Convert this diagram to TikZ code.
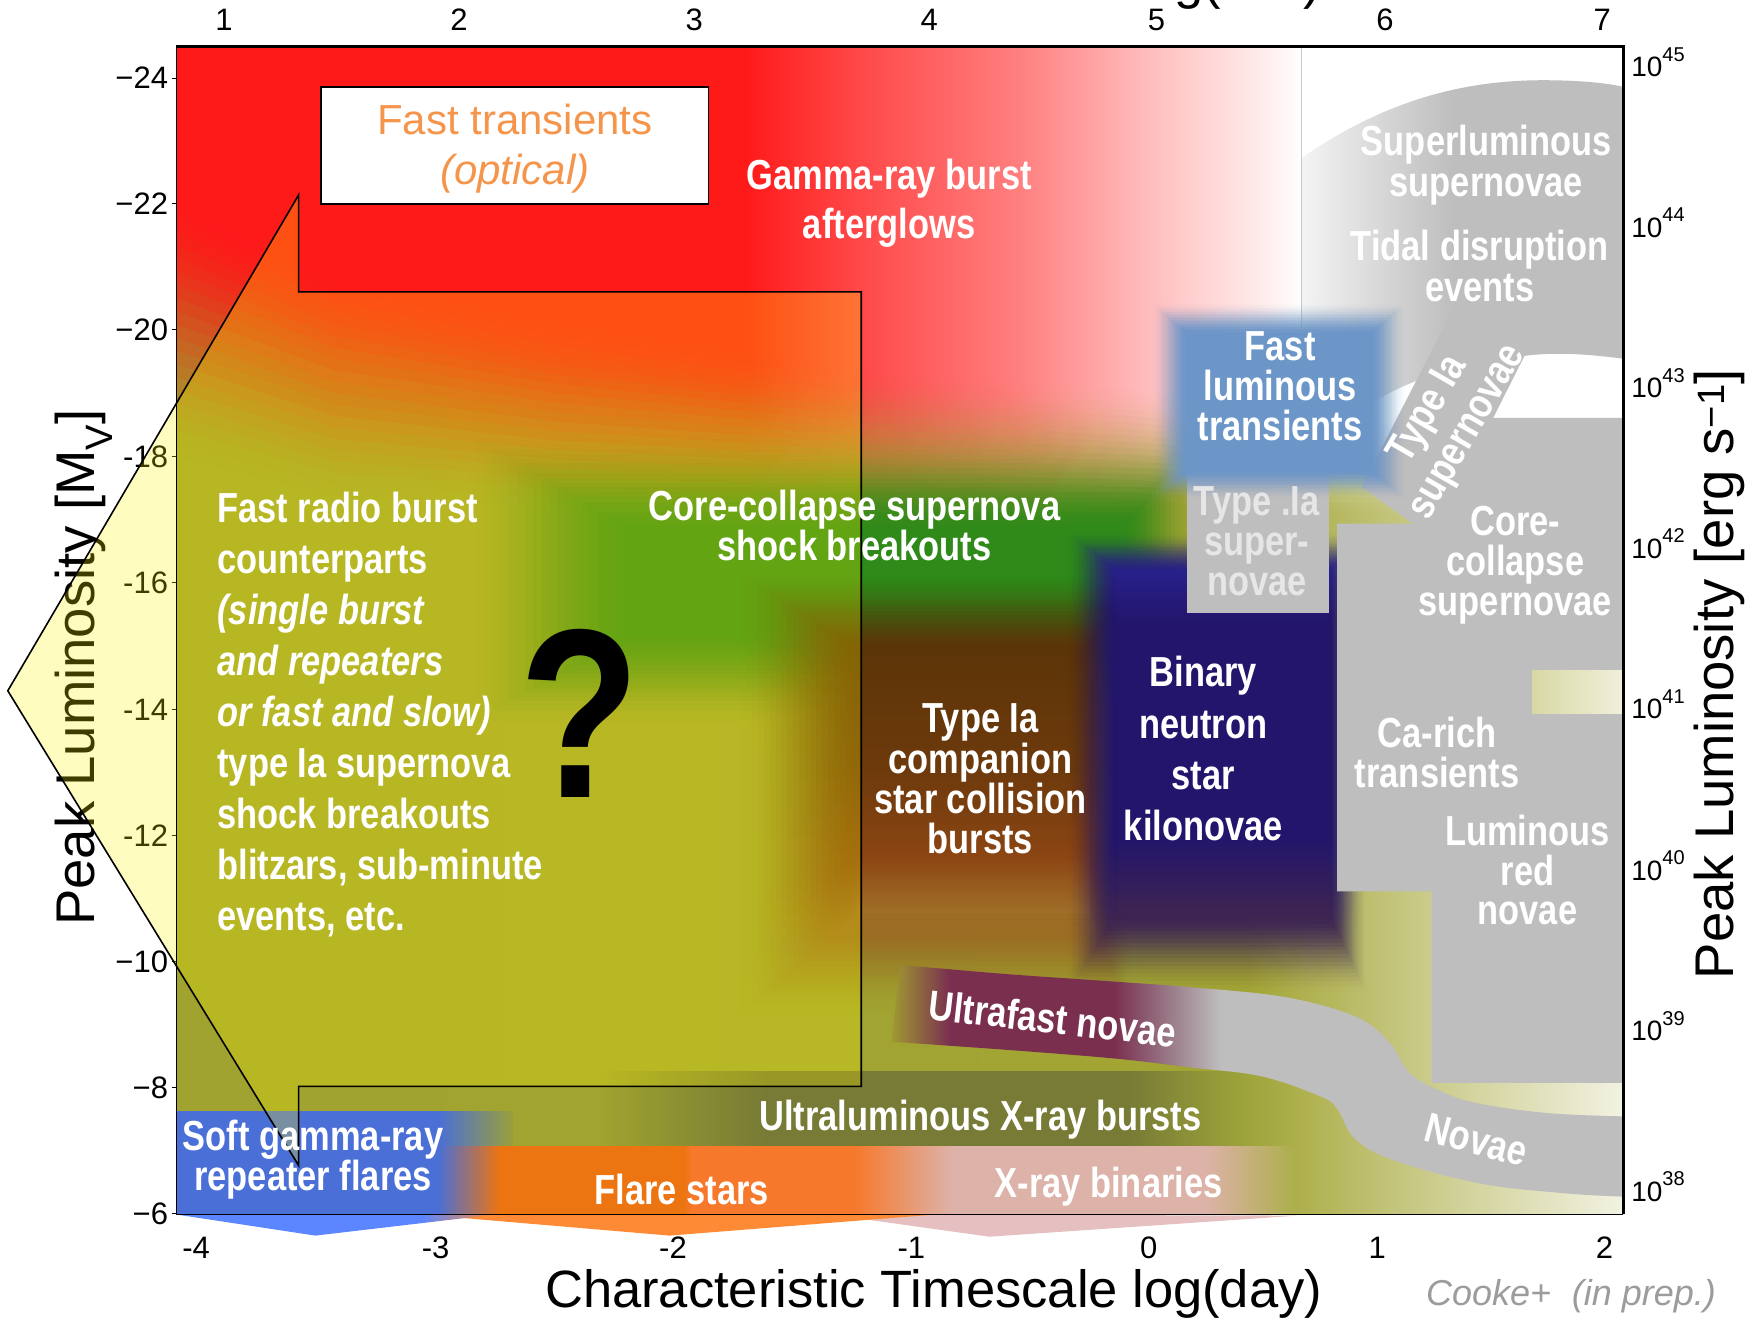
\documentclass[tikz,border=0pt]{standalone}
\usepackage{fontspec}
\setmainfont{Liberation Sans}
\newfontfamily\lbl[FakeStretch=0.82]{Liberation Sans}
\newcommand\lf[1]{\lbl\bfseries\fontsize{42}{#1}\selectfont}

% colours
\definecolor{cOlv}{HTML}{A0A32F}
\definecolor{cOlvA}{HTML}{A2A534}
\definecolor{cOlvB}{HTML}{C3C47A}
\definecolor{cOlvC}{HTML}{F2F2E2}
\definecolor{cGrn}{HTML}{2F8A1A}
\definecolor{cRed}{HTML}{FF1A1A}
\definecolor{cRedB}{HTML}{FF4545}
\definecolor{cRedC}{HTML}{FF8080}
\definecolor{cRedD}{HTML}{FFB8B8}
\definecolor{cRedE}{HTML}{FFE8E8}
\definecolor{cBrnA}{HTML}{5C3508}
\definecolor{cBrnB}{HTML}{6E3A0C}
\definecolor{cBrnC}{HTML}{8B4513}
\definecolor{cBrnD}{HTML}{A07028}
\definecolor{cNavy}{HTML}{22156B}
\definecolor{cNavyT}{HTML}{28208A}
\definecolor{cNavyB}{HTML}{3E2452}
\definecolor{cFlt}{HTML}{6C96C8}
\definecolor{cGry}{HTML}{BEBEBE}
\definecolor{cArcA}{HTML}{F4F4F4}
\definecolor{cArcB}{HTML}{D8D8D8}
\definecolor{cMar}{HTML}{7A2F4F}
\definecolor{cNovA}{HTML}{A09A32}
\definecolor{cNovB}{HTML}{9A7A88}
\definecolor{cSgr}{HTML}{4A6FD6}
\definecolor{cSgrE}{HTML}{9A9F3A}
\definecolor{cFlA}{HTML}{EC7411}
\definecolor{cFlB}{HTML}{F6782A}
\definecolor{cXrb}{HTML}{DDB2A9}
\definecolor{cRowE}{HTML}{ACAF4A}
\definecolor{cUlx}{HTML}{777B35}
\definecolor{cUlxB}{HTML}{9CA23A}
\definecolor{cUlxC}{HTML}{ACAF4A}
\definecolor{cYelA}{HTML}{D8D8A6}
\definecolor{cYelB}{HTML}{F0F0DC}
\definecolor{cWBlue}{HTML}{5B86FF}
\definecolor{cWOr}{HTML}{FF8A35}
\definecolor{cWPink}{HTML}{E6C0C0}
\definecolor{cFto}{HTML}{F5954C}
\definecolor{cCooke}{HTML}{9C9C9C}
\definecolor{cTdot}{HTML}{E6E6E6}
\definecolor{cLine}{HTML}{C8C8C8}

% shadings (the path box maps onto 25bp..75bp)
\pgfdeclarehorizontalshading{baseshade}{100bp}{color(0bp)=(cOlv); color(25bp)=(cOlv); color(62bp)=(cOlvA); color(67bp)=(cOlvB); color(75bp)=(cOlvC); color(100bp)=(cOlvC)}
\pgfdeclarehorizontalshading{redshade}{100bp}{color(0bp)=(cRed); color(25bp)=(cRed); color(44.7bp)=(cRed); color(48.3bp)=(cRedB); color(54.2bp)=(cRedC); color(58.2bp)=(cRedD); color(62.2bp)=(cRedE); color(63.95bp)=(white); color(100bp)=(white)}
\pgfdeclareverticalshading{brownv}{100bp}{color(0bp)=(cBrnD); color(25bp)=(cBrnD); color(36bp)=(cBrnC); color(52.5bp)=(cBrnB); color(75bp)=(cBrnA); color(100bp)=(cBrnA)}
\pgfdeclareverticalshading{navyv}{100bp}{color(0bp)=(cNavyB); color(25bp)=(cNavyB); color(36bp)=(cNavy); color(67.5bp)=(cNavy); color(75bp)=(cNavyT); color(100bp)=(cNavyT)}
\pgfdeclarehorizontalshading{arcshade}{100bp}{color(0bp)=(cArcA); color(25bp)=(cArcA); color(37bp)=(cArcB); color(48.5bp)=(cGry); color(100bp)=(cGry)}
\pgfdeclarehorizontalshading{novshade}{100bp}{color(0bp)=(cNovA); color(25bp)=(cNovA); color(29bp)=(cMar); color(40.2bp)=(cMar); color(44bp)=(cNovB); color(47.5bp)=(cGry); color(100bp)=(cGry)}
\pgfdeclarehorizontalshading{rowshade}{100bp}{color(0bp)=(cSgr); color(36.7bp)=(cSgr); color(39.45bp)=(cFlA); color(47.7bp)=(cFlA); color(48.05bp)=(cFlB); color(55.25bp)=(cFlB); color(59.7bp)=(cXrb); color(71bp)=(cXrb); color(75bp)=(cRowE); color(100bp)=(cRowE)}
\pgfdeclarehorizontalshading{sgrshade}{100bp}{color(0bp)=(cSgr); color(64bp)=(cSgr); color(75bp)=(cSgrE); color(100bp)=(cSgrE)}
\pgfdeclarehorizontalshading{ulxshade}{100bp}{color(0bp)=(cOlv); color(25bp)=(cOlv); color(36.8bp)=(cUlx); color(63bp)=(cUlx); color(71bp)=(cUlxB); color(75bp)=(cUlxC); color(100bp)=(cUlxC)}
\pgfdeclarehorizontalshading{yelshade}{100bp}{color(0bp)=(cYelA); color(25bp)=(cYelA); color(75bp)=(cYelB); color(100bp)=(cYelB)}
\pgfdeclarehorizontalshading{wedgeshade}{100bp}{color(0bp)=(cWBlue); color(63.5bp)=(cWBlue); color(75bp)=(cWOr); color(100bp)=(cWOr)}

% opacity of step #1 of #2 for a smoothstep edge
\newcommand\alphastep[2]{%
  \pgfmathsetmacro\sft{#1/#2}%
  \pgfmathsetmacro\sfp{(#1-1)/#2}%
  \pgfmathsetmacro\sfc{\sft*\sft*(3-2*\sft)}%
  \pgfmathsetmacro\sfcp{\sfp*\sfp*(3-2*\sfp)}%
  \pgfmathsetmacro\sfa{(\sfc-\sfcp)/(1-\sfcp)}%
}
% soft-edged rectangle: style, x1, y1, x2, y2, blur left, top, right, bottom
\newcommand\softrect[9]{%
  \foreach \sk in {1,...,22}{%
    \alphastep{\sk}{22}%
    \path[#1, fill opacity=\sfa] ({#2+\sfp*#6},{#3+\sfp*#7}) rectangle ({#4-\sfp*#8},{#5-\sfp*#9});
  }%
}

\begin{document}
\begin{tikzpicture}[x=1.1142pt, y=-1.1142pt,
  lab/.style={text=white, align=center, inner sep=0pt, font=\lf{40.1}},
  tk/.style={inner sep=0pt, font=\fontsize{31}{31}\selectfont},
  rk/.style={inner sep=0pt, anchor=base west, font=\fontsize{28}{28}\selectfont},
  axlab/.style={inner sep=0pt, font=\fontsize{52.5}{52.5}\selectfont}]
\useasboundingbox (0,0) rectangle (1568,1184);

% ---------------- coloured field ----------------
\begin{scope}
  \clip (158,42) rectangle (1457,1090);
  \shade[shading=baseshade] (158,42) rectangle (1457,1090);
  % core-collapse breakout zone
  \softrect{fill=cGrn}{420}{390}{1075}{650}{160}{95}{75}{90}
  % afterglow band, fading out along a slanted lower edge
  \foreach \sk in {1,...,20}{%
    \alphastep{\sk}{20}%
    \shade[shading=redshade, fill opacity=\sfa]
      (158,42) -- (1457,42)
      -- (1457,{470-90*\sfp}) -- (1200,{465-95*\sfp}) -- (1023,{460-115*\sfp})
      -- (943,{458-118*\sfp}) -- (773,{455-127*\sfp}) -- (500,{455-170*\sfp})
      -- (300,{445-205*\sfp}) -- (158,{410-238*\sfp}) -- cycle;
  }
  % companion collision zone
  \softrect{shade, shading=brownv}{665}{515}{1015}{910}{115}{75}{40}{95}
  % kilonova zone
  \softrect{shade, shading=navyv}{958}{478}{1226}{890}{48}{38}{36}{75}
  % superluminous SNe and TDE arc
  \shade[shading=arcshade] (1168,142) .. controls (1240,92) and (1310,72) .. (1385,72)
     .. controls (1420,72) and (1445,75) .. (1457,78) -- (1457,322)
     .. controls (1420,317) and (1390,316) .. (1364,320)
     .. controls (1300,328) and (1230,345) .. (1168,415) -- cycle;
  % Type Ia band
  \fill[cGry] (1222,437) -- (1304,278) -- (1372,312) -- (1320,415) -- (1268,470) -- cycle;
  % core-collapse, Ca-rich and red-nova block
  \fill[cGry] (1200,470) -- (1268,470) -- (1336,375) -- (1457,375) -- (1457,972)
     -- (1285,972) -- (1285,800) -- (1200,800) -- cycle;
  \draw[cLine, line width=0.8pt] (1168,42) -- (1168,430);
  % Type .Ia box
  \fill[cGry] (1065,389) rectangle (1193,550);
  % fast luminous transients
  \softrect{fill=cFlt}{1034}{272}{1262}{448}{34}{30}{34}{28}
  % pale strip
  \shade[shading=yelshade] (1375,602) rectangle (1457,640);
  % X-ray bursts band
  \shade[shading=ulxshade] (540,962) rectangle (1162,1029);
  % SGR flares, flare stars, X-ray binaries
  \shade[shading=sgrshade] (158,998) rectangle (460,1029);
  \shade[shading=rowshade] (158,1029) rectangle (1162,1090);
  % ultrafast novae into the novae track
  \shade[shading=novshade]
    plot[smooth, tension=0.6] coordinates {(808,866) (900,874) (1000,881) (1068,886) (1154,895) (1218,913) (1248,937) (1265,963) (1290,978) (1325,990) (1389,999) (1457,1002)}
    -- plot[smooth, tension=0.6] coordinates {(1457,1074) (1404,1071) (1327,1062) (1250,1041) (1216,1022) (1200,995) (1185,984) (1132,966) (1068,958) (1000,950) (900,942) (800,935)}
    -- cycle;
\end{scope}

% wedges under the time axis
\fill[cWPink] (745,1090) -- (888,1110) -- (1165,1091) -- cycle;
\fill[cWOr] (378,1090) -- (601,1109) -- (840,1090) -- cycle;
\shade[shading=wedgeshade] (158,1090) -- (283,1109) -- (445,1090) -- cycle;

% ---------------- axes ----------------
\foreach \v/\yy [count=\i] in {−24/70,−22/183,−20/296,-18/410,-16/523,-14/637,-12/750,−10/863,−8/976,−6/1089}{
  \node[tk, anchor=east] (lt\i) at (151,\yy) {\v};
  \draw[line width=0.8pt] (154,\yy) -- (158,\yy);
}
\foreach \v/\xx in {1/201,2/412,3/623,4/834,5/1038,6/1243,7/1438}
  \node[tk] (tt\v) at (\xx,18) {\v};
\foreach \v/\xx [count=\i] in {-4/176,-3/391,-2/604,-1/818,0/1031,1/1236,2/1440}
  \node[tk] (bt\i) at (\xx,1120) {\v};
\foreach \e/\yy in {45/69,44/213,43/357,42/501,41/645,40/790,39/934,38/1078}
  \node[rk] (rt\e) at (1464,\yy) {10\raisebox{15.6pt}{\fontsize{20}{20}\selectfont\e}};

\node[axlab, rotate=90, font=\fontsize{54.5}{54.5}\selectfont] (ylab) at (75,599) {Peak Luminosity [M\textsubscript{V}]};
\node[axlab, rotate=90, font=\fontsize{54.5}{54.5}\selectfont] (rlab) at (1543,605) {Peak Luminosity [erg s\textsuperscript{−1}]};
\node[axlab] (xlab) at (838,1161) {Characteristic Timescale log(day)};
\node[axlab] (xtoplab) at (838,-13.4) {Characteristic Timescale log(sec)};
\node[inner sep=0pt, text=cCooke, font=\itshape\fontsize{36}{36}\selectfont] (cooke) at (1410,1163) {Cooke+\hspace{0.3em} (in prep.)};

% ---------------- fast-transient arrow ----------------
\fill[yellow, fill opacity=0.25] (7,620) -- (268,175) -- (268,262) -- (773,262) -- (773,975) -- (268,975) -- (268,1046) -- cycle;
\draw[line width=1.6pt, line join=miter] (7,620) -- (268,175) -- (268,262) -- (773,262) -- (773,975) -- (268,975) -- (268,1046) -- cycle;

\node[draw=black, fill=white, line width=1.6pt, minimum width=387.7pt, minimum height=117pt, inner sep=0pt] (ftbox) at (462,130.5) {};
\node[text=cFto, align=center, inner sep=0pt, font=\fontsize{42}{50}\selectfont] (fttext) at (462,133) {Fast transients\\\textit{(optical)}};

% ---------------- labels ----------------
\node[lab, font=\lf{49}] (grb) at (798,182) {Gamma-ray burst\\afterglows};
\node[lab, font=\lf{37.9}] (ccsb) at (767,472) {Core-collapse supernova\\shock breakouts};
\node[lab, align=left, anchor=west, font=\lf{51}] (frb) at (195,641) {Fast radio burst\\counterparts\\\textit{(single burst}\\\textit{and repeaters}\\\textit{or fast and slow)}\\type Ia supernova\\shock breakouts\\blitzars, sub-minute\\events, etc.};
\node[inner sep=0pt, font=\lbl\bfseries\fontsize{241}{241}\selectfont] (qm) at (520,640) {?};
\node[lab] (tiacomp) at (880,699) {Type Ia\\companion\\star collision\\bursts};
\node[lab, font=\lf{51.3}] (bns) at (1080,672) {Binary\\neutron\\star\\kilonovae};
\node[lab] (flt) at (1149,347) {Fast\\luminous\\transients};
\node[lab, text=cTdot] (tdotia) at (1128,486) {Type .Ia\\super-\\novae};
\node[lab, font=\lf{41}] (slsn) at (1334,148) {Superluminous\\supernovae};
\node[lab, font=\lf{41}] (tde) at (1328,239) {Tidal disruption\\events};
\node[lab] (ccsn) at (1360,507) {Core-\\collapse\\supernovae};
\node[lab] (carich) at (1290,675) {Ca-rich\\transients};
\node[lab, font=\lf{39.5}] (lrn) at (1371,781) {Luminous\\red\\novae};
\node[lab, rotate=60, font=\lf{44.6}] (tia) at (1300,378) {Type Ia\\supernovae};
\node[lab, rotate=-6.5] (ufn) at (945,914) {Ultrafast novae};
\node[lab] (ulx) at (880,1005) {Ultraluminous X-ray bursts};
\node[lab] (flare) at (612,1068) {Flare stars};
\node[lab] (xrb) at (995,1065) {X-ray binaries};
\node[lab] (sgr) at (281,1041) {Soft gamma-ray\\repeater flares};
\node[lab, rotate=-15] (novae) at (1325,1023) {Novae};

% ---------------- frame ----------------
\draw[line width=2.6pt] (158,42) -- (1457,42) -- (1457,1090);
\draw[line width=1.4pt] (158,1090) -- (1457,1090);
\draw[line width=1pt] (158,42) -- (158,1090);
\end{tikzpicture}
\end{document}
